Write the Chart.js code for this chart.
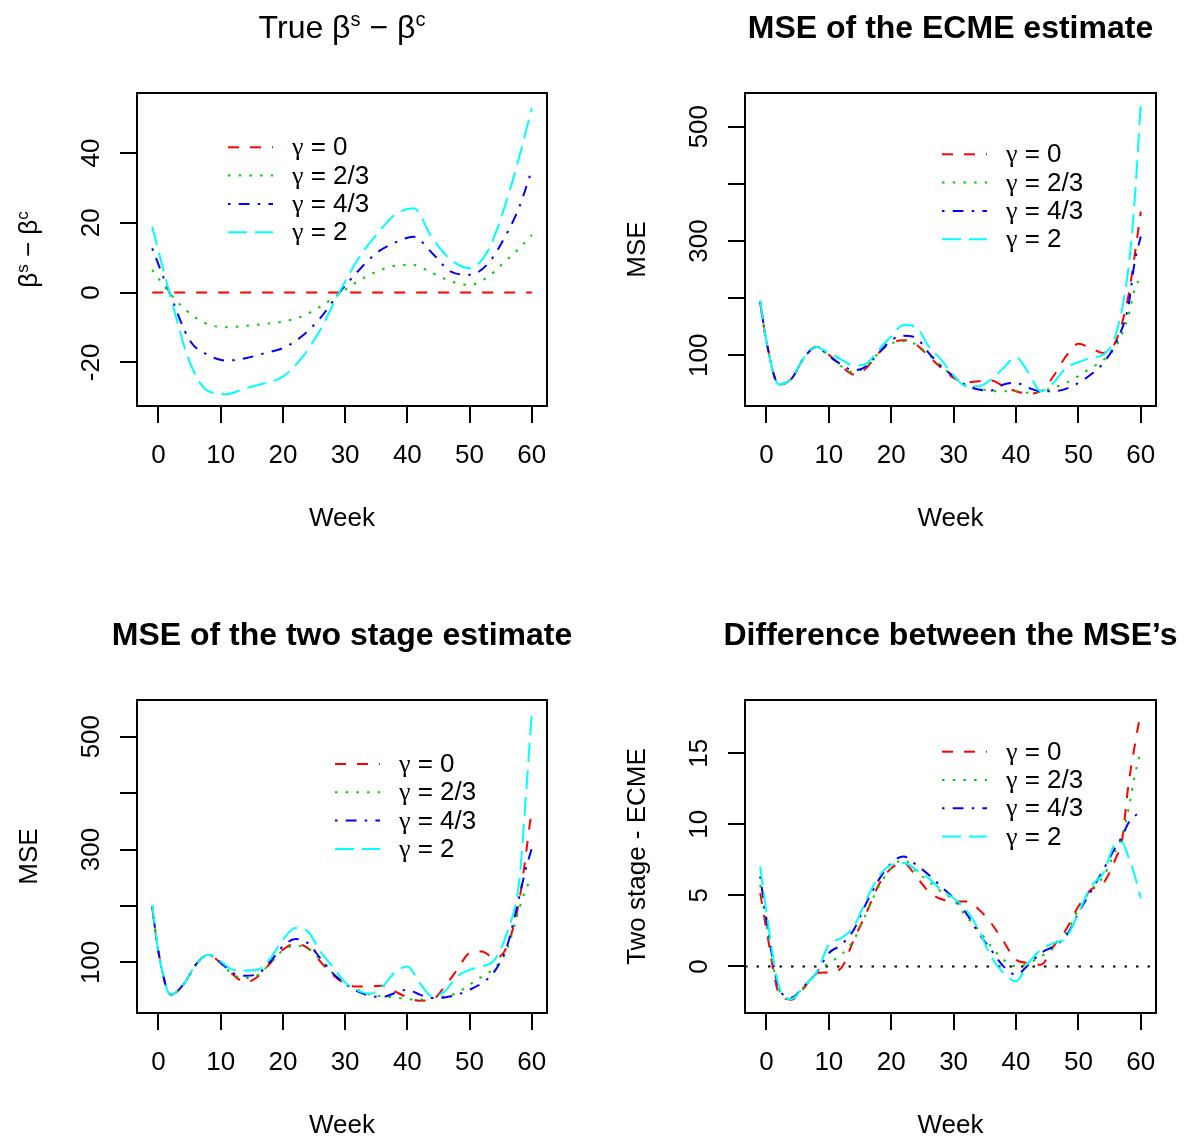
<!DOCTYPE html>
<html>
<head>
<meta charset="utf-8">
<script src="https://cdn.jsdelivr.net/npm/chart.js@4.4.1/dist/chart.umd.min.js"></script>
<style>
  html, body { margin: 0; padding: 0; background: #fff; }
  #wrap { position: relative; width: 1189px; height: 1141px; }
  #wrap canvas { position: absolute; left: 0; top: 0; }
</style>
</head>
<body>
<div id="wrap">
  <canvas id="c1" width="1189" height="1141"></canvas>
  <canvas id="c2" width="1189" height="1141"></canvas>
  <canvas id="c3" width="1189" height="1141"></canvas>
  <canvas id="c4" width="1189" height="1141"></canvas>
</div>
<script>
const FONT = '"Liberation Sans", Arial, Helvetica, sans-serif'
const GREEK = '"Liberation Serif", "Times New Roman", serif'

const gammaLabels = ["γ = 0", "γ = 2/3", "γ = 4/3", "γ = 2"]
const seriesColors = ["#ff0000", "#00cd00", "#0000ff", "#00ffff"]
const seriesDashes = [[11, 11], [2.5, 8.2], [2.5, 8.2, 10.8, 8.2], [19, 8]]

const weekTicks = [0, 10, 20, 30, 40, 50, 60]
const diffTicks = [-20, 0, 20, 40]
const mseTicks = [100, 200, 300, 400, 500]
const mseTickLabels = [100, 300, 500]
const gapTicks = [0, 5, 10, 15]

// true beta^s - beta^c
const trueWeeks = [-1, 2, 5, 8, 11, 14, 17, 20, 23, 26, 29, 32, 35, 38, 41, 44, 47, 50, 53, 56, 58, 60]
const trueG0 = [0, 0, 0, 0, 0, 0, 0, 0, 0, 0, 0, 0, 0, 0, 0, 0, 0, 0, 0, 0, 0, 0]
const trueG23 = [6.5, -0.5, -5.9, -9.1, -9.9, -9.5, -9.0, -8.3, -6.9, -4.0, -0.4, 3.2, 6.0, 7.7, 7.9, 5.6, 3.2, 2.2, 4.6, 9.4, 12.7, 16.5]
const trueG43 = [12.7, -1.0, -13.6, -17.9, -19.5, -18.8, -17.4, -15.9, -12.6, -7.3, -0.2, 6.0, 11.3, 14.3, 16.0, 11.3, 6.0, 5.1, 8.4, 17.0, 24.6, 35.2]
const trueG2 = [18.9, -1.5, -19.8, -28.2, -29.1, -27.4, -26.0, -24.1, -18.8, -10.7, -0.2, 9.4, 16.5, 22.3, 24.2, 15.6, 9.4, 7.0, 12.2, 26.6, 39.0, 52.8]

// MSE of the ECME estimate
const mseWeeks = [-1, 0, 2, 4, 6, 8, 10, 12, 14, 16, 18, 20, 22, 24, 26, 28, 30, 32, 34, 36, 38, 40, 42, 44, 46, 48, 50, 52, 54, 56, 58, 59, 60]
const ecmeG0 = [191.5, 124, 49, 59, 95.5, 114.6, 101, 80.9, 66.3, 77.9, 104.2, 121.6, 126.3, 118.7, 98.3, 77.9, 60.5, 52.9, 54.7, 55.9, 46.0, 37.2, 33.1, 37.2, 63.4, 98.3, 120, 112.8, 104.2, 124.5, 203.2, 273, 351.5]
const ecmeG23 = [193, 124, 49, 59, 95.5, 114.6, 99, 80.9, 70.3, 80.9, 104.2, 120.5, 124.5, 118.7, 101.2, 80.9, 63.4, 47.7, 43.0, 37.2, 37.2, 37.2, 34.3, 37.2, 43.0, 51.8, 63.4, 78, 91.6, 115.8, 168.3, 214.8, 238]
const ecmeG43 = [194, 124, 49, 59, 95.5, 114.6, 99, 83.8, 73.8, 80.9, 104.2, 126.3, 134.4, 130.4, 104.2, 80.9, 63.4, 47.7, 40.1, 38.4, 48.8, 51.8, 43.0, 37.2, 37.2, 41.3, 51.8, 66.3, 86.7, 121.6, 185.7, 261.4, 308]
const ecmeG2 = [196, 124, 49, 59, 95.5, 114.6, 104, 92.6, 81.9, 85.5, 110, 133.3, 153, 149.5, 115.8, 92.6, 64.6, 45.9, 45.9, 57.6, 78, 96.5, 69.2, 37.2, 51.8, 78, 87.9, 95.5, 101.3, 136.6, 249.7, 368, 541]

// MSE of the two stage estimate
const twoG0 = [197, 119, 42.9, 60.5, 95.9, 113.6, 98.9, 78.2, 64.7, 75.2, 98.9, 122.5, 133.1, 125.4, 101.8, 78.2, 62.3, 57.5, 57.5, 58.7, 48.7, 38, 32.2, 34, 57.5, 87, 116.6, 119.5, 107.7, 128.3, 210.9, 287.6, 373]
const twoG23 = [198, 119, 42.9, 60.5, 95.9, 113.6, 99.5, 78.2, 72.3, 78.2, 98.9, 121.4, 129.6, 125.4, 104.7, 81.1, 62.3, 51.7, 42.9, 39.8, 38, 35.1, 34, 37, 39.8, 45.8, 60.5, 75.2, 90, 122.5, 196.2, 228.6, 249.3]
const twoG43 = [199, 119, 42.9, 60.5, 95.9, 113.6, 99.5, 81.1, 76.4, 80, 101.8, 128.3, 141.4, 134.2, 107.7, 81.1, 62.3, 48.7, 41, 38.6, 45.8, 51.7, 42.9, 37, 38, 42.9, 51.7, 63.5, 84.1, 128.3, 216.8, 264, 302.3]
const twoG2 = [202, 119, 42.9, 60.5, 95.9, 113.6, 101.8, 87, 85.8, 87, 107.7, 140.2, 160.9, 155, 119.5, 92.9, 64.7, 50.5, 44.5, 57.5, 82.3, 92.9, 63.5, 39.8, 48.7, 75.2, 87, 92.9, 104.7, 152, 246, 387, 543]

// Two stage - ECME
const gapWeeks = [-1, 0, 2, 4, 6, 8, 10, 12, 14, 16, 18, 20, 22, 24, 26, 28, 30, 32, 34, 36, 38, 40, 42, 44, 46, 48, 50, 52, 54, 56, 57, 58, 59, 60]
const gapG0 = [5.16, 2.6, -1.87, -2.34, -1.52, -0.47, -0.42, -0.1, 1.87, 3.75, 5.74, 6.91, 7.27, 6.33, 5.27, 4.74, 4.57, 4.57, 4.03, 3.05, 1.76, 0.47, 0.24, 0.12, 1.41, 2.58, 4.22, 5.39, 5.86, 7.62, 8.91, 12.7, 15.47, 17.93]
const gapG23 = [5.74, 3.0, -1.64, -2.3, -1.45, -0.47, 0.24, 0.82, 1.87, 3.75, 5.62, 6.91, 7.5, 6.68, 5.98, 5.27, 4.69, 3.5, 2.58, 1.41, 0.47, 0, 0.24, 0.7, 1.29, 2.35, 3.98, 5.39, 6.33, 8.2, 9.14, 11.0, 13.36, 15.23]
const gapG43 = [6.33, 3.3, -1.52, -2.2, -1.4, -0.47, 0.94, 1.53, 2.58, 4.45, 6.09, 7.27, 7.73, 7.15, 6.45, 5.62, 4.8, 3.75, 2.35, 1.17, 0, -0.58, 0.12, 0.94, 1.41, 2.11, 3.75, 5.27, 6.8, 8.43, 9.14, 10.08, 10.55, 11.0]
const gapG2 = [7.03, 3.8, -1.4, -2.3, -1.4, -0.47, 1.53, 2.0, 2.81, 4.69, 6.33, 7.15, 7.27, 6.8, 6.21, 5.39, 4.8, 3.98, 2.58, 0.7, -0.47, -1.05, 0.24, 1.17, 1.64, 2.0, 3.75, 5.62, 6.56, 8.67, 8.72, 7.73, 6.45, 4.8]

const weekRange = [-3.44, 62.44]

const panels = [
  {
    id: "c1", box: [137, 93, 547, 406], yRange: [-32.5, 57.2],
    yTicks: diffTicks, yTickLabels: diffTicks,
    title: [{ t: "True β" }, { t: "s", sup: true }, { t: " − β" }, { t: "c", sup: true }], bold: false,
    ylab: [{ t: "β" }, { t: "s", sup: true }, { t: " − β" }, { t: "c", sup: true }],
    weeks: trueWeeks, series: [trueG0, trueG23, trueG43, trueG2],
    legend: { x: 228, y: 147.3 }
  },
  {
    id: "c2", box: [745, 93, 1156, 406], yRange: [11.3, 558.9],
    yTicks: mseTicks, yTickLabels: mseTickLabels,
    title: [{ t: "MSE of the ECME estimate" }], bold: true,
    ylab: [{ t: "MSE" }],
    weeks: mseWeeks, series: [ecmeG0, ecmeG23, ecmeG43, ecmeG2],
    legend: { x: 942, y: 154.3 }
  },
  {
    id: "c3", box: [137, 700, 547, 1013], yRange: [10.4, 565],
    yTicks: mseTicks, yTickLabels: mseTickLabels,
    title: [{ t: "MSE of the two stage estimate" }], bold: true,
    ylab: [{ t: "MSE" }],
    weeks: mseWeeks, series: [twoG0, twoG23, twoG43, twoG2],
    legend: { x: 335, y: 764 }
  },
  {
    id: "c4", box: [745, 700, 1156, 1013], yRange: [-3.28, 18.75],
    yTicks: gapTicks, yTickLabels: gapTicks,
    title: [{ t: "Difference between the MSE’s" }], bold: true,
    ylab: [{ t: "Two stage - ECME" }],
    weeks: gapWeeks, series: [gapG0, gapG23, gapG43, gapG2],
    legend: { x: 942, y: 751.7 }, zeroLine: true
  }
]

function segFont(seg, size, weight) {
  const fam = seg.greek ? GREEK : FONT
  return `${weight} ${seg.sup ? Math.round(size * 0.64) : size}px ${fam}`
}

function richWidth(ctx, segs, size, weight) {
  let w = 0
  for (const s of segs) {
    ctx.font = segFont(s, size, weight)
    w += ctx.measureText(s.t).width
  }
  return w
}

// rich text (superscripts), baseline at y; align "center" or "left"
function drawRich(ctx, segs, x0, y, size, weight, align = "center") {
  let x = align === "center" ? x0 - richWidth(ctx, segs, size, weight) / 2 : x0
  ctx.textAlign = "left"
  ctx.textBaseline = "alphabetic"
  for (const s of segs) {
    ctx.font = segFont(s, size, weight)
    ctx.fillText(s.t, x, s.sup ? y - size * 0.36 : y)
    x += ctx.measureText(s.t).width
  }
}

const rFrame = {
  id: "rFrame",
  afterDraw(chart, args, o) {
    const ctx = chart.ctx
    const { left, top, right, bottom } = chart.chartArea
    const yScale = chart.scales.y
    const cx = (left + right) / 2
    const cy = (top + bottom) / 2

    ctx.save()
    ctx.strokeStyle = "#000"
    ctx.lineWidth = 2
    ctx.setLineDash([])
    ctx.strokeRect(left, top, right - left, bottom - top)

    ctx.fillStyle = "#000"

    // y tick labels, rotated like R's default
    ctx.font = `26px ${FONT}`
    ctx.textAlign = "center"
    ctx.textBaseline = "middle"
    for (const v of o.yTickLabels) {
      ctx.save()
      ctx.translate(left - 45, yScale.getPixelForValue(v))
      ctx.rotate(-Math.PI / 2)
      ctx.fillText(String(v), 0, 0)
      ctx.restore()
    }

    // title
    drawRich(ctx, o.title, cx, top - 55, 32, o.bold ? "bold" : "normal")

    // x label
    ctx.font = `26px ${FONT}`
    ctx.textAlign = "center"
    ctx.textBaseline = "middle"
    ctx.fillText("Week", cx, bottom + 113)

    // y label
    ctx.save()
    ctx.translate(left - 100, cy)
    ctx.rotate(-Math.PI / 2)
    drawRich(ctx, o.ylab, 0, 0, 26, "normal")
    ctx.restore()

    // legend (no box)
    for (let i = 0; i < o.nSeries; i++) {
      const ds = chart.data.datasets[i]
      const ly = o.legend.y + i * 28.3
      ctx.save()
      ctx.strokeStyle = ds.borderColor
      ctx.lineWidth = ds.borderWidth
      ctx.setLineDash(ds.borderDash)
      ctx.beginPath()
      ctx.moveTo(o.legend.x, ly)
      ctx.lineTo(o.legend.x + 45, ly)
      ctx.stroke()
      ctx.restore()
      const segs = [{ t: ds.label.slice(0, 1), greek: true }, { t: ds.label.slice(1) }]
      drawRich(ctx, segs, o.legend.x + 64, ly + 8, 26, "normal", "left")
    }
    ctx.restore()
  }
}

function buildChart(p) {
  const datasets = p.series.map((vals, i) => ({
    label: gammaLabels[i],
    data: p.weeks.map((w, k) => ({ x: w, y: vals[k] })),
    borderColor: seriesColors[i],
    borderDash: seriesDashes[i],
    borderWidth: 2,
    pointRadius: 0,
    cubicInterpolationMode: "monotone",
    order: 3 - i
  }))

  if (p.zeroLine) {
    datasets.push({
      label: "zero",
      data: weekRange.map(w => ({ x: w, y: 0 })),
      borderColor: "#000",
      borderDash: [2.5, 9],
      borderWidth: 2,
      pointRadius: 0,
      order: 10
    })
  }

  const [bl, bt, br, bb] = p.box
  const yW = 30
  const xH = 100

  const tickGrid = {
    drawOnChartArea: false,
    drawTicks: true,
    tickLength: 17,
    color: "#000",
    lineWidth: 2
  }

  new Chart(document.getElementById(p.id), {
    type: "line",
    data: { datasets },
    options: {
      responsive: false,
      animation: false,
      devicePixelRatio: 1,
      layout: {
        padding: { left: bl - yW, top: bt, right: 1189 - br, bottom: 1141 - bb - xH }
      },
      plugins: {
        legend: { display: false },
        tooltip: { enabled: false },
        rFrame: {
          title: p.title, bold: p.bold, ylab: p.ylab,
          yTickLabels: p.yTickLabels, legend: p.legend, nSeries: p.series.length
        }
      },
      scales: {
        x: {
          type: "linear",
          min: weekRange[0],
          max: weekRange[1],
          border: { display: false },
          grid: tickGrid,
          afterBuildTicks: s => { s.ticks = weekTicks.map(v => ({ value: v })) },
          afterFit: s => { s.height = xH },
          ticks: {
            color: "#000",
            padding: 17,
            maxRotation: 0,
            autoSkip: false,
            font: { family: FONT, size: 26 }
          }
        },
        y: {
          type: "linear",
          min: p.yRange[0],
          max: p.yRange[1],
          border: { display: false },
          grid: tickGrid,
          afterBuildTicks: s => { s.ticks = p.yTicks.map(v => ({ value: v })) },
          afterFit: s => { s.width = yW },
          ticks: { display: false }
        }
      }
    },
    plugins: [rFrame]
  })
}

panels.forEach(buildChart)
</script>
</body>
</html>
